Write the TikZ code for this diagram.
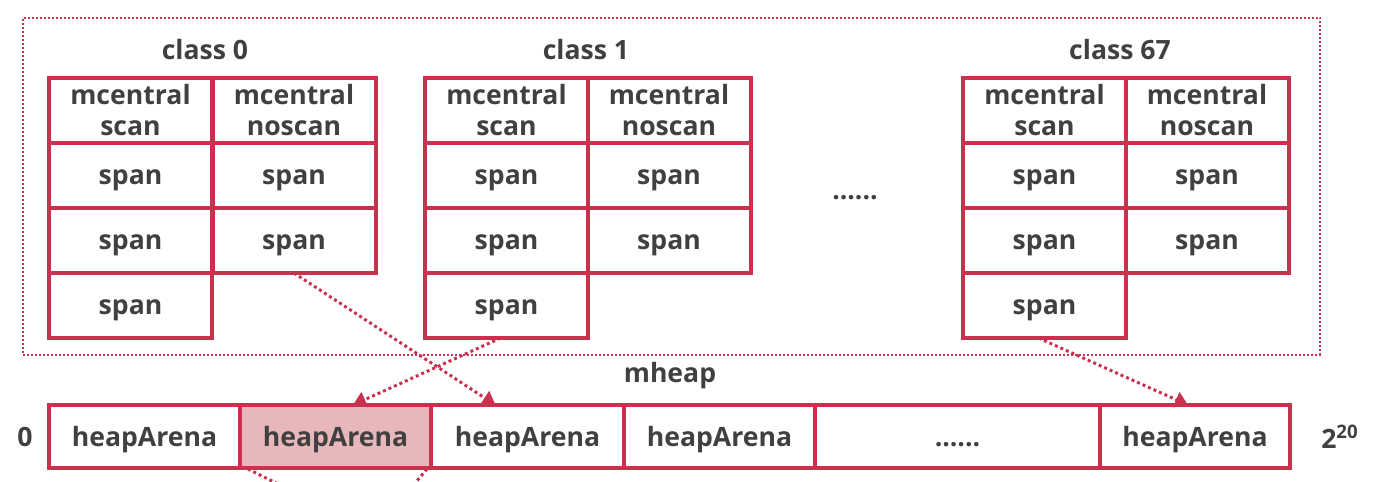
\documentclass[tikz,border=0pt]{standalone}
\usepackage{fontspec}
\setmainfont{Open Sans}
\usetikzlibrary{calc,arrows.meta}
\definecolor{bord}{HTML}{C9324F}
\definecolor{hfill}{HTML}{E8B7BB}
\definecolor{txt}{HTML}{404040}
\tikzset{
  tfont/.style={font=\fontsize{13.3}{15.5}\selectfont\bfseries},
  cell/.style={draw=bord,line width=2pt,minimum width=81.5pt,minimum height=32.5pt,inner sep=0pt,outer sep=0pt,
    tfont,text=txt,align=center},
  spcell/.style={cell,text height=11pt,text depth=2.3pt},
  arena/.style={draw=bord,line width=2pt,minimum height=31.5pt,inner sep=0pt,outer sep=0pt,
    tfont,text=txt,text height=12pt,text depth=2.2pt},
  lbl/.style={tfont,text=txt,inner sep=0pt},
  ptr/.style={draw=bord,line width=1.5pt,dash pattern=on 1.5pt off 1.5pt,-{Triangle[width=8pt,length=6.5pt]}},
  ptrline/.style={draw=bord,line width=1.5pt,dash pattern=on 1.5pt off 1.5pt},
  frame/.style={draw=bord,line width=1pt,dash pattern=on 1pt off 1pt}
}
\begin{document}
\begin{tikzpicture}[x=0.5pt,y=-0.5pt]
\useasboundingbox (0,0) rectangle (1378,482);
\node[frame,minimum width=648.5pt,minimum height=168.5pt,inner sep=0pt] (frm) at (671.5,186) {};
% labels
\node[lbl] (c0) at (205,50) {class 0};
\node[lbl] (c1) at (586,50) {class 1};
\node[lbl] (c67) at (1120,50) {class 67};
\node[lbl] (dots) at (855,198) {......};
\node[lbl] (mh) at (670,376) {mheap};
% class 0
\node[cell] (a11) at (130.5,110.5) {mcentral\\scan};
\node[cell] (a12) at (294,110.5) {mcentral\\noscan};
\node[spcell] (a21) at (130.5,175.5) {span};
\node[spcell] (a22) at (294,175.5) {span};
\node[spcell] (a31) at (130.5,240.5) {span};
\node[spcell] (a32) at (294,240.5) {span};
\node[spcell] (a41) at (130.5,305.5) {span};
% class 1
\node[cell] (b11) at (506.5,110.5) {mcentral\\scan};
\node[cell] (b12) at (669,110.5) {mcentral\\noscan};
\node[spcell] (b21) at (506.5,175.5) {span};
\node[spcell] (b22) at (669,175.5) {span};
\node[spcell] (b31) at (506.5,240.5) {span};
\node[spcell] (b32) at (669,240.5) {span};
\node[spcell] (b41) at (506.5,305.5) {span};
% class 67
\node[cell] (d11) at (1044.5,110.5) {mcentral\\scan};
\node[cell] (d12) at (1207,110.5) {mcentral\\noscan};
\node[spcell] (d21) at (1044.5,175.5) {span};
\node[spcell] (d22) at (1207,175.5) {span};
\node[spcell] (d31) at (1044.5,240.5) {span};
\node[spcell] (d32) at (1207,240.5) {span};
\node[spcell] (d41) at (1044.5,305.5) {span};
% heap arenas
\node[arena,minimum width=95.5pt] (h1) at (144.5,436.5) {heapArena};
\node[arena,minimum width=96.5pt] (h3) at (527.5,436.5) {heapArena};
\node[arena,minimum width=95.5pt] (h4) at (719.5,436.5) {heapArena};
\node[arena,minimum width=142.5pt] (h5) at (957.5,436.5) {......};
\node[arena,minimum width=95pt] (h6) at (1195,436.5) {heapArena};
\node[arena,minimum width=95.5pt,fill=hfill] (h2) at (335.5,436.5) {heapArena};
\node[lbl] (zero) at (25,437) {0};
\node[lbl] (top) at (1340,437) {2\textsuperscript{20}};
% pointers
\draw[ptr] (a32.south) -- ($(h3.north)+(-32,0)$);
\draw[ptr] ($(b41.south)+(-6,0)$) -- ($(h2.north)+(17.5,0)$);
\draw[ptr] ($(d41.south)+(-6,0)$) -- ($(h6.north)+(-7,0)$);
\coordinate (l1) at (300,495);
\coordinate (l2) at (405,495);
\draw[ptrline] ($(h2.south west)+(8,1)$) -- (l1);
\draw[ptrline] ($(h2.south east)+(-4,1)$) -- (l2);
\end{tikzpicture}
\end{document}
